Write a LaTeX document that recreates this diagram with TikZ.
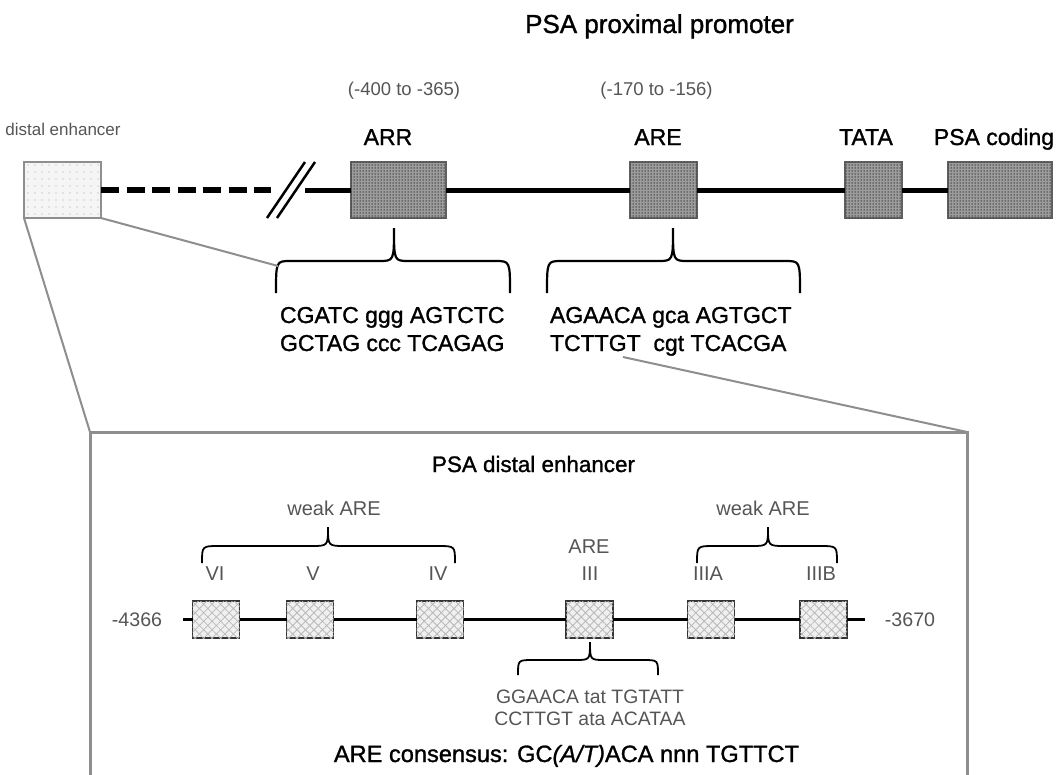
\documentclass[tikz,border=0pt]{standalone}
\usepackage{fontspec}
\setmainfont{Liberation Sans}
\newfontfamily\heavyfont[FakeBold=1.2]{Liberation Sans}
\usetikzlibrary{patterns,patterns.meta}
\definecolor{txtgray}{HTML}{555555}
\definecolor{linegray}{HTML}{8E8E8E}
\definecolor{boxgray}{HTML}{9C9C9C}
\newcommand{\setfsz}[1]{\fontsize{#1}{#1}\selectfont}
\newcommand{\mybrace}[8][]{%
  \draw[bracestyle,#1] (#2,#7) .. controls (#2,#6) .. ({#2+#8},#6) -- ({#4-#8},#6)
    .. controls (#4,#6) .. (#4,#5) .. controls (#4,#6) .. ({#4+#8},#6)
    -- ({#3-#8},#6) .. controls (#3,#6) .. (#3,#7);}
\begin{document}
\begin{tikzpicture}[x=1pt,y=-1pt,
  every node/.style={inner sep=0pt,outer sep=0pt},
  topbox/.style={draw=gray!75!black,line width=1.6pt,fill=boxgray,
    postaction={pattern={Dots[distance=3pt,radius=0.75pt]},pattern color=gray!45!black}},
  distbox/.style={draw=linegray,line width=1.6pt,fill=gray!8,
    postaction={pattern={Dots[distance=7pt,radius=0.7pt]},pattern color=gray!70}},
  inbox/.style={draw=black!80,line width=1.5pt,fill=gray!12,minimum width=47pt,minimum height=37pt,
    postaction={pattern={Lines[angle=45,distance=6pt,line width=0.8pt]},pattern color=gray!55},
    postaction={pattern={Lines[angle=-45,distance=6pt,line width=0.8pt]},pattern color=gray!55}},
  dnaline/.style={line width=5pt,black},
  inline/.style={line width=3.5pt,black},
  dashline/.style={line width=5.5pt,black,dash pattern=on 18pt off 7.5pt},
  brk/.style={line width=2.5pt,black},
  bracestyle/.style={line width=2.2pt,black},
  inbrace/.style={line width=1.8pt},
  zoomline/.style={line width=2pt,linegray},
  zoombox/.style={line width=3pt,linegray},
  blk/.style={text=black},
  gry/.style={text=txtgray}]
\useasboundingbox (0,0) rectangle (1059,774);

% ---------- top: proximal promoter ----------
\node[blk,anchor=base,font=\heavyfont\setfsz{26}] (title) at (659.5,33) {PSA proximal promoter};
\node[gry,anchor=base,font=\setfsz{17}] (dlab) at (63,135) {distal enhancer};
\node[gry,anchor=base,font=\setfsz{18.5}] (r1) at (404,95) {(-400 to -365)};
\node[gry,anchor=base,font=\setfsz{18.5}] (r2) at (656.5,95) {(-170 to -156)};
\node[blk,anchor=base,font=\heavyfont\setfsz{23}] (larr) at (388,145) {ARR};
\node[blk,anchor=base,font=\heavyfont\setfsz{23}] (lare) at (658,145) {ARE};
\node[blk,anchor=base,font=\heavyfont\setfsz{23}] (ltata) at (866,145) {TATA};
\node[blk,anchor=base,font=\heavyfont\setfsz{23}] (lcod) at (994,145) {PSA coding};

\node[distbox,minimum width=77pt,minimum height=56pt] (distal) at (62.5,190) {};
\node[topbox,minimum width=95pt,minimum height=56pt] (arr) at (398.5,190) {};
\node[topbox,minimum width=67pt,minimum height=56pt] (are) at (663.5,190) {};
\node[topbox,minimum width=57pt,minimum height=56pt] (tata) at (873.5,190) {};
\node[topbox,minimum width=104pt,minimum height=56pt] (coding) at (1000,190) {};

\coordinate (brkL) at (271,190);
\coordinate (brkR) at (305,190);
\draw[dashline] (distal.east) -- (brkL);
\draw[dnaline] (brkR) -- (arr.west);
\draw[dnaline] (arr.east) -- (are.west);
\draw[dnaline] (are.east) -- (tata.west);
\draw[dnaline] (tata.east) -- (coding.west);
\coordinate (s1a) at (267,218); \coordinate (s1b) at (305,162);
\coordinate (s2a) at (277,218); \coordinate (s2b) at (315,162);
\draw[brk] (s1a) -- (s1b);
\draw[brk] (s2a) -- (s2b);

% braces and sequences
\mybrace{276}{510}{394}{228}{261}{293}{15}
\mybrace{547}{800}{673}{228}{261}{293}{15}
\node[blk,anchor=base west,font=\heavyfont\setfsz{23}] (arrs1) at (280,323) {CGATC ggg AGTCTC};
\node[blk,anchor=base west,font=\heavyfont\setfsz{23}] (arrs2) at (280,351) {GCTAG ccc TCAGAG};
\node[blk,anchor=base west,font=\heavyfont\setfsz{23}] (ares1) at (550,323) {AGAACA gca AGTGCT};
\node[blk,anchor=base west,font=\heavyfont\setfsz{23}] (ares2) at (550,351) {TCTTGT\ \ cgt TCACGA};

% ---------- zoom box ----------
\coordinate (zTL) at (90,432);
\coordinate (zTR) at (967,432);
\coordinate (zBL) at (90,780);
\coordinate (zBR) at (967,780);
\coordinate (arrbrace) at (278,266);
\coordinate (areseq) at (623,357);
\draw[zoomline] (distal.south east) -- (arrbrace);
\draw[zoomline] (distal.south west) -- (zTL);
\draw[zoomline] (areseq) -- (zTR);
\draw[zoombox] (zBL) -- (zTL) -- (zTR) -- (zBR);

\node[blk,anchor=base,font=\heavyfont\setfsz{22.4}] (dtitle) at (533.5,472) {PSA distal enhancer};

% inner line and boxes
\node[inbox] (b6) at (216,619.5) {};
\node[inbox] (b5) at (310,619.5) {};
\node[inbox] (b4) at (440,619.5) {};
\node[inbox] (b3) at (589.5,619.5) {};
\node[inbox] (b3a) at (711,619.5) {};
\node[inbox] (b3b) at (823.5,619.5) {};
\coordinate (lstart) at (183,619.5);
\coordinate (lend) at (865,619.5);
\draw[inline] (lstart) -- (b6.west);
\draw[inline] (b6.east) -- (b5.west);
\draw[inline] (b5.east) -- (b4.west);
\draw[inline] (b4.east) -- (b3.west);
\draw[inline] (b3.east) -- (b3a.west);
\draw[inline] (b3a.east) -- (b3b.west);
\draw[inline] (b3b.east) -- (lend);

\node[gry,anchor=base,font=\setfsz{19.6}] (n1) at (137,626) {-4366};
\node[gry,anchor=base,font=\setfsz{19.6}] (n2) at (910,626) {-3670};

\node[gry,anchor=base,font=\setfsz{20}] (w1) at (334,515) {weak ARE};
\node[gry,anchor=base,font=\setfsz{20}] (w2) at (763,515) {weak ARE};
\node[gry,anchor=base,font=\setfsz{20}] (aret) at (589,553) {ARE};
\node[gry,anchor=base,font=\setfsz{20}] (t6) at (215,580) {VI};
\node[gry,anchor=base,font=\setfsz{20}] (t5) at (313,580) {V};
\node[gry,anchor=base,font=\setfsz{20}] (t4) at (438,580) {IV};
\node[gry,anchor=base,font=\setfsz{20}] (t3) at (590,580) {III};
\node[gry,anchor=base,font=\setfsz{20}] (t3a) at (708,580) {IIIA};
\node[gry,anchor=base,font=\setfsz{20}] (t3b) at (821,580) {IIIB};

\mybrace[inbrace]{202}{455}{328}{527}{546}{563}{17}
\mybrace[inbrace]{697}{837}{768}{527}{546}{563}{17}
\mybrace[inbrace]{518}{658}{590}{642}{660}{675}{15}

\node[gry,anchor=base,font=\setfsz{19.4}] (g1) at (590,703) {GGAACA tat TGTATT};
\node[gry,anchor=base,font=\setfsz{19.4}] (g2) at (590,725) {CCTTGT ata ACATAA};
\node[blk,anchor=base,font=\heavyfont\setfsz{23.6}] (cons) at (566.5,762) {ARE consensus: GC\textit{(A/T)}ACA nnn TGTTCT};
\end{tikzpicture}
\end{document}
